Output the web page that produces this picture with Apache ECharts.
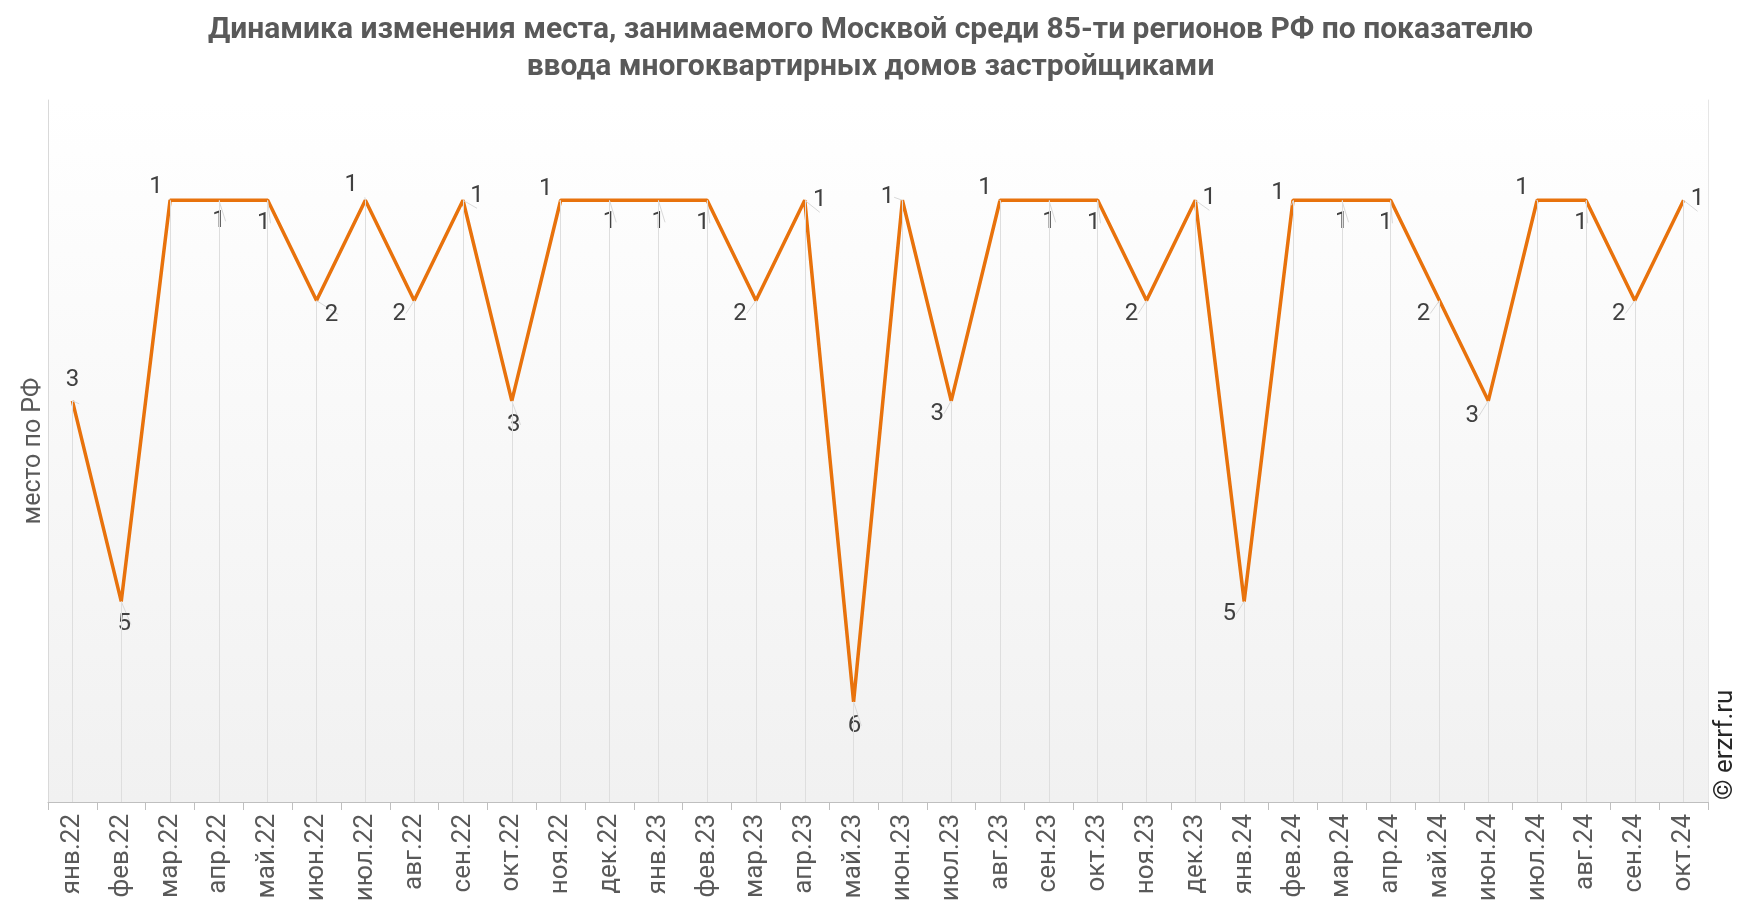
<!DOCTYPE html>
<html>
<head>
<meta charset="utf-8">
<script src="https://cdn.jsdelivr.net/npm/echarts@6/dist/echarts.min.js"></script>
<style>
html,body{margin:0;padding:0;background:#fff;}
#chart{width:1741px;height:912px;}
</style>
</head>
<body>
<div id="chart"></div>
<script>
const titleText = 'Динамика изменения места, занимаемого Москвой среди 85-ти регионов РФ по показателю\nввода многоквартирных домов застройщиками';
const yAxisName = 'место по РФ';
const watermark = '© erzrf.ru';

const categories = [
  'янв.22','фев.22','мар.22','апр.22','май.22','июн.22','июл.22','авг.22','сен.22','окт.22','ноя.22','дек.22',
  'янв.23','фев.23','мар.23','апр.23','май.23','июн.23','июл.23','авг.23','сен.23','окт.23','ноя.23','дек.23',
  'янв.24','фев.24','мар.24','апр.24','май.24','июн.24','июл.24','авг.24','сен.24','окт.24'
];
const places = [
  3,5,1,1,1,2,1,2,1,3,1,1,
  1,1,2,1,6,1,3,1,1,1,2,1,
  5,1,1,1,2,3,1,1,2,1
];
const axisMin = 0;
const axisMax = 7;

// label placement offsets (layout only), [dx, dy] in px relative to the point
const labelOffsets = [
  [0,-21],[3,23],[-14,-13],[0,21],[-4,23],[15,14],[-14,-15],[-15,13],[14,-4],[2,24],[-15,-11],[0,22],
  [0,22],[-4,23],[-16,13],[15,0],[1,24],[-15,-3],[-14,13],[-15,-12],[0,22],[-4,23],[-15,13],[14,-2],
  [-15,13],[-15,-7],[0,22],[-5,23],[-16,13],[-16,15],[-15,-12],[-5,23],[-16,13],[14,-1]
];

const chart = echarts.init(document.getElementById('chart'));
const FONT = 'Roboto, "Noto Sans", sans-serif';

chart.setOption({
  animation: false,
  backgroundColor: '#ffffff',
  textStyle: {fontFamily: FONT},
  title: {
    text: titleText,
    left: 'center',
    top: 7,
    textStyle: {fontFamily: FONT, fontSize: 30, fontWeight: 'bold', color: '#595959', lineHeight: 37}
  },
  graphic: [{
    type: 'text',
    right: 3,
    bottom: 112,
    rotation: Math.PI / 2,
    style: {text: watermark, fontFamily: FONT, fontSize: 26, fill: '#262626'}
  }],
  grid: {
    left: 48, right: 33, top: 100, bottom: 110,
    show: true,
    borderWidth: 0,
    borderColor: 'rgba(0,0,0,0)',
    backgroundColor: {
      type: 'linear', x: 0, y: 0, x2: 0, y2: 1,
      colorStops: [{offset: 0, color: '#ffffff'}, {offset: 1, color: '#f1f1f1'}]
    }
  },
  xAxis: {
    type: 'category',
    data: categories,
    boundaryGap: true,
    position: 'bottom',
    axisLine: {show: true, onZero: false, lineStyle: {color: '#bfbfbf', width: 1}},
    axisTick: {show: true, length: 8, lineStyle: {color: '#bfbfbf'}},
    axisLabel: {rotate: 90, fontSize: 26, color: '#595959', margin: 12, fontFamily: FONT, interval: 0},
    splitLine: {show: false}
  },
  yAxis: [{
    type: 'value',
    inverse: true,
    min: axisMin,
    max: axisMax,
    interval: 1,
    name: yAxisName,
    nameLocation: 'middle',
    nameGap: 2,
    nameTextStyle: {fontSize: 25, color: '#595959', fontFamily: FONT},
    axisLine: {show: true, onZero: false, lineStyle: {color: '#d9d9d9'}},
    axisTick: {show: false},
    axisLabel: {show: false},
    splitLine: {show: false}
  }, {
    type: 'value',
    inverse: true,
    min: axisMin,
    max: axisMax,
    interval: 1,
    position: 'right',
    axisLine: {show: true, onZero: false, lineStyle: {color: '#e6e6e6'}},
    axisTick: {show: false},
    axisLabel: {show: false},
    splitLine: {show: false}
  }],
  series: [{
    type: 'line',
    data: places.map((v, i) => ({value: v, label: {offset: labelOffsets[i]}})),
    symbol: 'circle',
    symbolSize: 1,
    showSymbol: true,
    itemStyle: {color: 'rgba(0,0,0,0)'},
    lineStyle: {color: '#E8720C', width: 3.5},
    label: {
      show: true,
      position: 'inside',
      fontSize: 24,
      color: '#404040',
      fontFamily: FONT
    },
    labelLine: {show: true, lineStyle: {color: '#d9d9d9', width: 1}},
    markLine: {
      silent: true,
      symbol: ['none', 'none'],
      label: {show: false},
      lineStyle: {color: '#dedede', width: 1, type: 'solid'},
      data: places.map((v, i) => [{coord: [i, v]}, {coord: [i, axisMax]}])
    },
    z: 3
  }]
});
</script>
</body>
</html>
